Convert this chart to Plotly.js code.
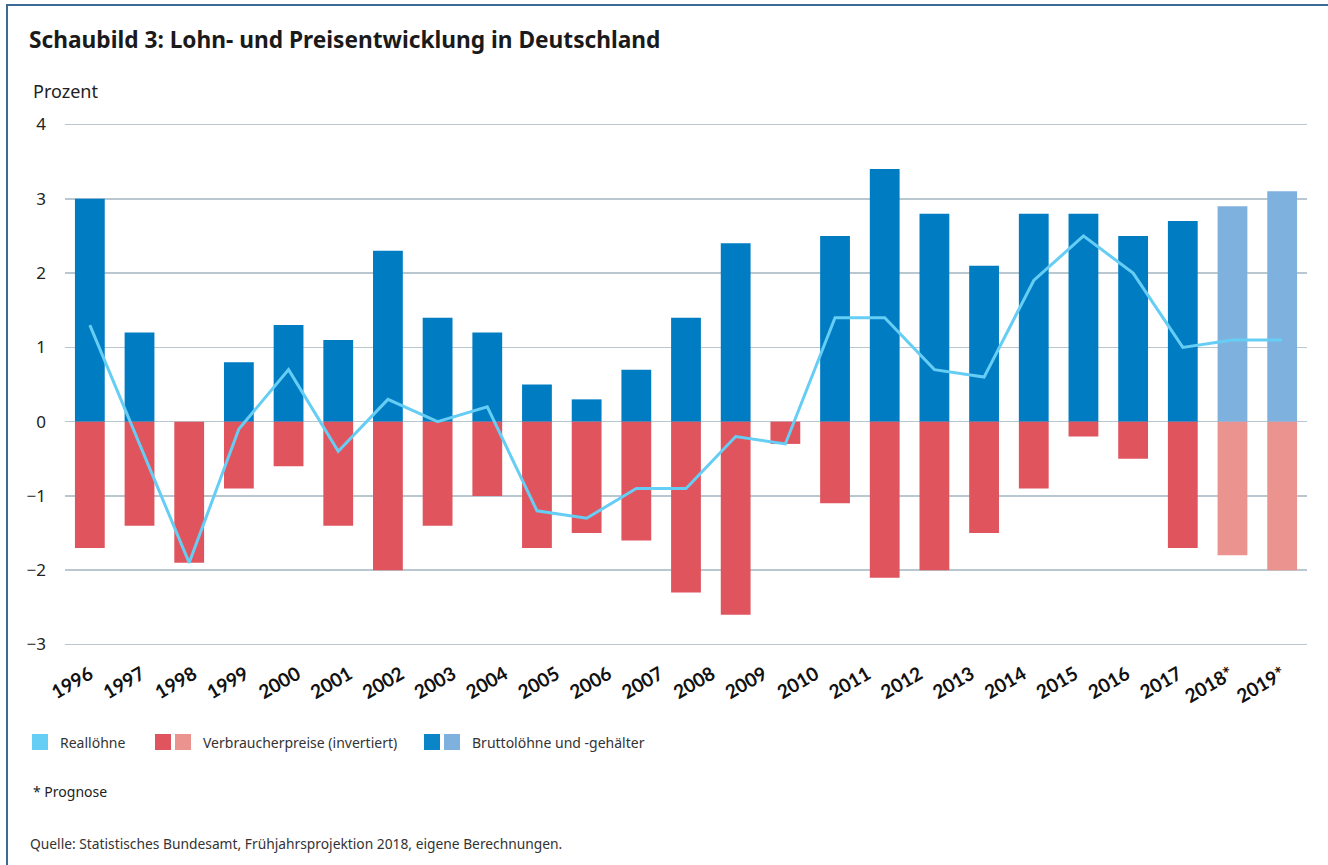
<!DOCTYPE html>
<html>
<head>
<meta charset="utf-8">
<script src="https://cdn.plot.ly/plotly-3.0.1.min.js"></script>
<style>
  html, body { margin: 0; padding: 0; background: #ffffff; }
  #chart { width: 1328px; height: 865px; }
  #frame { position: absolute; left: 6px; top: 4px; width: 1400px; height: 900px;
           border-left: 2px solid #3b6a96; border-top: 2px solid #3b6a96; pointer-events: none; }
</style>
</head>
<body>
<div id="chart"></div>
<div id="frame"></div>
<script>
// ---- data ----
const years = [1995,1996,1997,1998,1999,2000,2001,2002,2003,2004,2005,2006,2007,2008,2009,2010,2011,2012,2013,2014,2015,2016,2017,2018,2019];
const forecastYears = [2018, 2019];
const bruttoloehne = [3.0,1.2,0.0,0.8,1.3,1.1,2.3,1.4,1.2,0.5,0.3,0.7,1.4,2.4,0.0,2.5,3.4,2.8,2.1,2.8,2.8,2.5,2.7,2.9,3.1];
const verbraucherpreiseInv = [-1.7,-1.4,-1.9,-0.9,-0.6,-1.4,-2.0,-1.4,-1.0,-1.7,-1.5,-1.6,-2.3,-2.6,-0.3,-1.1,-2.1,-2.0,-1.5,-0.9,-0.2,-0.5,-1.7,-1.8,-2.0];
const realloehne = [1.3,-0.3,-1.9,-0.1,0.7,-0.4,0.3,0.0,0.2,-1.2,-1.3,-0.9,-0.9,-0.2,-0.3,1.4,1.4,0.7,0.6,1.9,2.5,2.0,1.0,1.1,1.1];
const tickLabels = ["1996","1997","1998","1999","2000","2001","2002","2003","2004","2005","2006","2007","2008","2009","2010","2011","2012","2013","2014","2015","2016","2017","2018*","2019*"];

// ---- styles ----
const C_BLUE = '#007cc3', C_BLUE_L = '#7fb1df';
const C_RED = '#e0545e', C_RED_L = '#eb938f';
const C_LINE = '#66cdf4';
const isFc = y => forecastYears.indexOf(y) >= 0;

// labels spread evenly across the bar span (as in the original)
const first = years[0], last = years[years.length - 1];
const tickVals = tickLabels.map((_, i) => first + i * (last - first) / (tickLabels.length - 1));

const W = 1328, H = 865;
const M = {l: 65, r: 21, t: 123, b: 219};
const pw = W - M.l - M.r, ph = H - M.t - M.b;
const px = x => (x - M.l) / pw;
const py = y => (H - M.b - y) / ph;

const FONT = 'Noto Sans, Open Sans, sans-serif';

const traces = [
  {type: 'bar', x: years, y: bruttoloehne, name: 'Bruttolöhne und -gehälter',
   marker: {color: years.map(y => isFc(y) ? C_BLUE_L : C_BLUE)}, hoverinfo: 'x+y'},
  {type: 'bar', x: years, y: verbraucherpreiseInv, name: 'Verbraucherpreise (invertiert)',
   marker: {color: years.map(y => isFc(y) ? C_RED_L : C_RED)}, hoverinfo: 'x+y'},
  {type: 'scatter', mode: 'lines', x: years, y: realloehne, name: 'Reallöhne',
   line: {color: C_LINE, width: 3}}
];

const shapes = [];
const annotations = [];
function legendSquare(x, color) {
  shapes.push({type: 'rect', xref: 'paper', yref: 'paper',
    x0: px(x), x1: px(x + 16), y0: py(750), y1: py(734),
    fillcolor: color, line: {width: 0}});
}
function text(x, y, t, size, color, extra) {
  annotations.push(Object.assign({xref: 'paper', yref: 'paper', x: px(x), y: py(y),
    xanchor: 'left', yanchor: 'middle', showarrow: false, text: t,
    font: {family: FONT, size: size, color: color}}, extra || {}));
}
legendSquare(32, C_LINE);
text(58, 742, 'Reallöhne', 14, '#333');
legendSquare(155, C_RED);
legendSquare(175, C_RED_L);
text(201, 742, 'Verbraucherpreise (invertiert)', 14, '#333');
legendSquare(424, '#0a86c8');
legendSquare(444, C_BLUE_L);
text(470, 742, 'Bruttolöhne und -gehälter', 14, '#333');
text(31, 791, '* Prognose', 14, '#222');
text(28, 843, 'Quelle: Statistisches Bundesamt, Frühjahrsprojektion 2018, eigene Berechnungen.', 13.8, '#333');
text(31, 91, 'Prozent', 18, '#222');

const layout = {
  width: W, height: H,
  margin: M,
  paper_bgcolor: '#ffffff', plot_bgcolor: '#ffffff',
  showlegend: false,
  barmode: 'relative',
  bargap: 0.4,
  title: {text: 'Schaubild 3: Lohn- und Preisentwicklung in Deutschland',
    xref: 'container', yref: 'container', x: 29 / W, xanchor: 'left',
    y: 1 - 40 / H, yanchor: 'middle',
    font: {family: FONT, size: 22.7, color: '#1a1a1a', weight: 700}},
  xaxis: {
    range: [first - 0.5, last + 0.5],
    tickmode: 'array', tickvals: tickVals, ticktext: tickLabels,
    tickangle: -30,
    tickfont: {family: 'Lato, Carlito, sans-serif', size: 19, color: '#111', weight: 700},
    ticks: 'outside', ticklen: 9, tickcolor: 'rgba(0,0,0,0)',
    showgrid: false, zeroline: false, showline: false, fixedrange: true
  },
  yaxis: {
    range: [-3.02, 4.02], dtick: 1, tick0: 0,
    tickfont: {family: FONT, size: 17, color: '#222'},
    showgrid: true, gridcolor: '#b9c7d1', gridwidth: 1.5,
    zeroline: true, zerolinecolor: '#b9c7d1', zerolinewidth: 1.5,
    showline: false, ticks: '', ticklabelstandoff: 18, fixedrange: true
  },
  shapes: shapes,
  annotations: annotations
};

Plotly.newPlot('chart', traces, layout, {displayModeBar: false, staticPlot: true});
</script>
</body>
</html>
